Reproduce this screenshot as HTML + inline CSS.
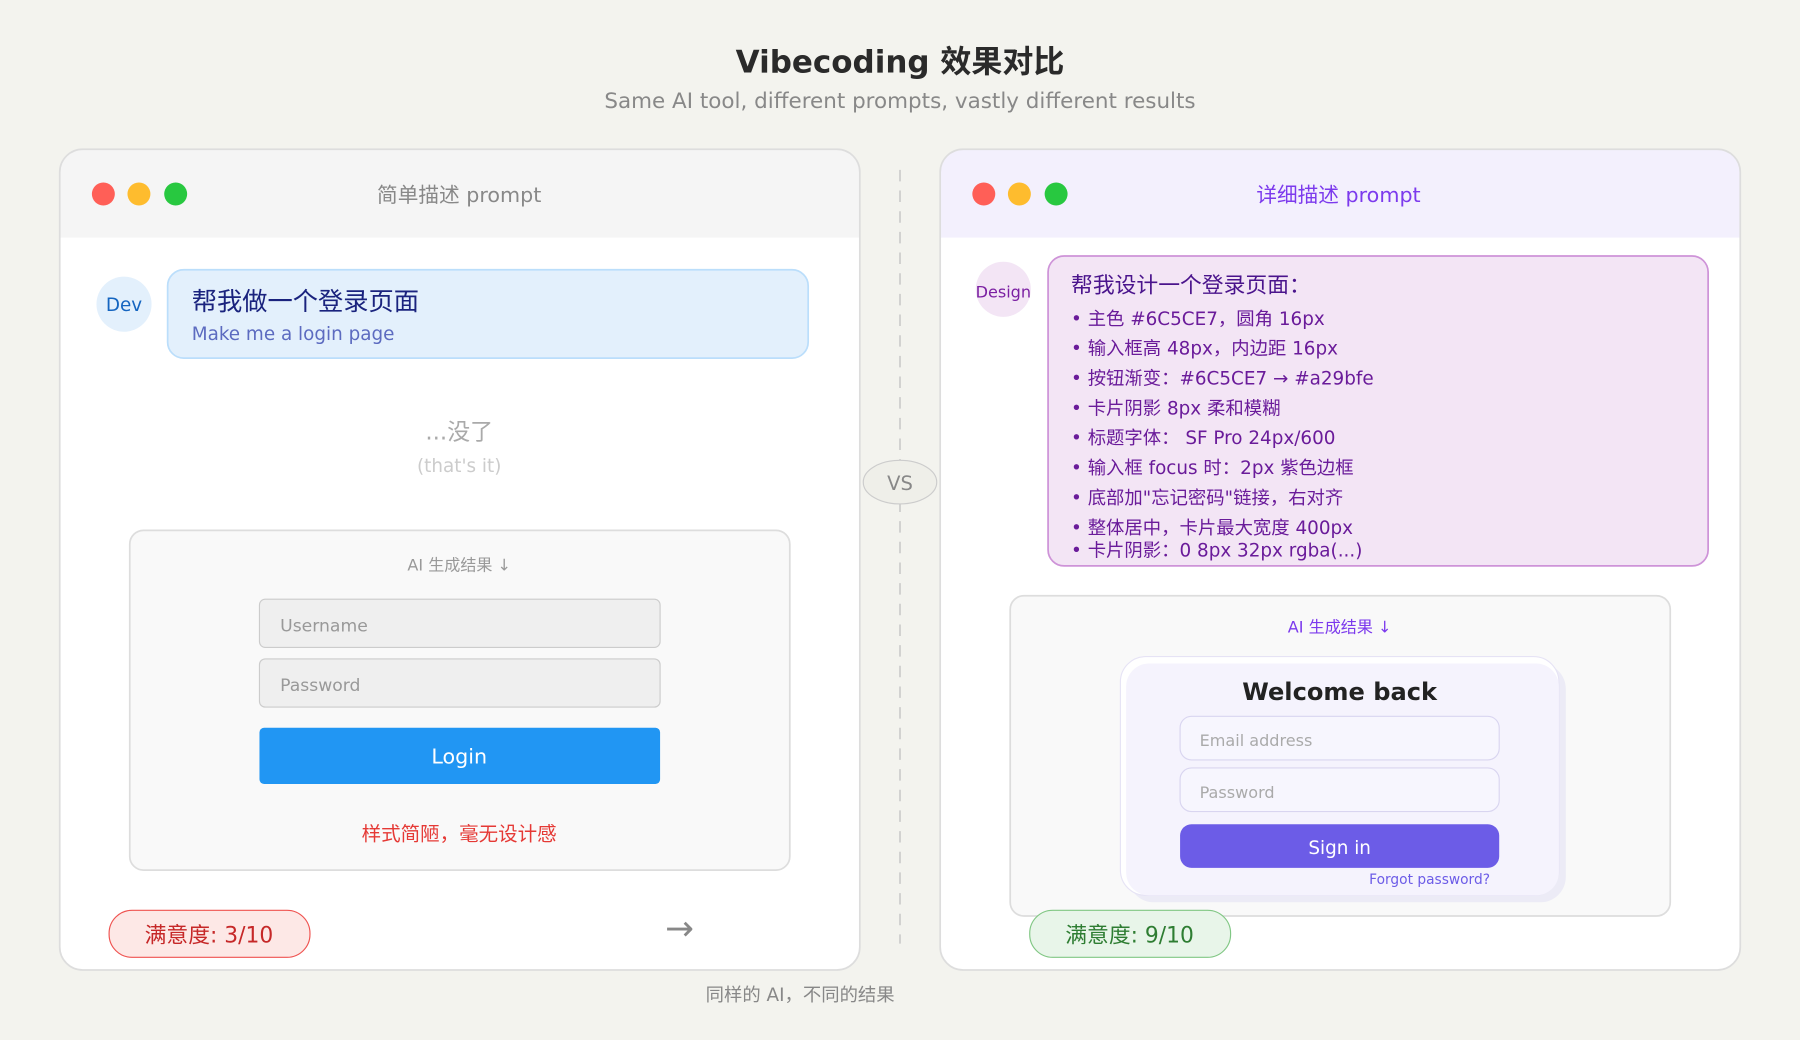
<!DOCTYPE html>
<html><head><meta charset="utf-8"><style>
html,body{margin:0;padding:0;background:#f3f3ee;}
svg{display:block;}
text{font-family:"DejaVu Sans","Liberation Sans","Noto Sans CJK SC",sans-serif;}
</style></head><body>
<svg width="1800" height="1040" viewBox="0 0 1568 906" xmlns="http://www.w3.org/2000/svg">
<rect width="1568" height="906" fill="#f3f3ee"/>
<text x="784" y="63" text-anchor="middle" font-size="27" font-weight="bold" fill="#2a2a2a">Vibecoding 效果对比</text>
<text x="784" y="94" text-anchor="middle" font-size="18.7" fill="#888">Same AI tool, different prompts, vastly different results</text>

<!-- left panel -->
<rect x="52" y="130" width="697" height="715" rx="20" fill="#fff"/>
<path d="M52 207 V150 a20 20 0 0 1 20 -20 H729 a20 20 0 0 1 20 20 V207 Z" fill="#f5f5f5"/>
<rect x="52" y="130" width="697" height="715" rx="20" fill="none" stroke="#ddd" stroke-width="1.5"/>
<circle cx="90" cy="169" r="10" fill="#ff5f57"/><circle cx="121" cy="169" r="10" fill="#febc2e"/><circle cx="153" cy="169" r="10" fill="#28c840"/>
<text x="400" y="176" text-anchor="middle" font-size="18" fill="#888">简单描述 prompt</text>
<circle cx="108" cy="265" r="24" fill="#e3f0fc"/>
<text x="108" y="271" text-anchor="middle" font-size="16" fill="#1565c0">Dev</text>
<rect x="146" y="235" width="558" height="77" rx="14" fill="#e3f0fc" stroke="#bbdefb" stroke-width="1.5"/>
<text x="167" y="270" font-size="22" fill="#1a237e">帮我做一个登录页面</text>
<text x="167" y="296" font-size="16" fill="#5c6bc0">Make me a login page</text>
<text x="400" y="383" text-anchor="middle" font-size="20" fill="#aaa">...没了</text>
<text x="400" y="411" text-anchor="middle" font-size="16" fill="#ccc">(that's it)</text>
<rect x="113" y="462" width="575" height="296" rx="12" fill="#f9f9f9" stroke="#ddd" stroke-width="1.5"/>
<text x="400" y="497" text-anchor="middle" font-size="14" fill="#999">AI 生成结果 ↓</text>
<rect x="226" y="522" width="349" height="42" rx="5" fill="#efefef" stroke="#ccc"/>
<text x="244" y="550" font-size="15" fill="#999">Username</text>
<rect x="226" y="574" width="349" height="42" rx="5" fill="#efefef" stroke="#ccc"/>
<text x="244" y="602" font-size="15" fill="#999">Password</text>
<rect x="226" y="634" width="349" height="49" rx="4" fill="#2196f3"/>
<text x="400" y="665" text-anchor="middle" font-size="18" fill="#fff">Login</text>
<text x="400" y="732" text-anchor="middle" font-size="17" fill="#e53935">样式简陋，毫无设计感</text>
<rect x="95" y="793" width="175" height="41" rx="20" fill="#fde8e6" stroke="#ef5350"/>
<text x="182" y="821" text-anchor="middle" font-size="19" fill="#c62828">满意度: 3/10</text>
<text x="592" y="819" text-anchor="middle" font-size="30" fill="#888">→</text>

<!-- divider -->
<line x1="784" y1="148" x2="784" y2="822" stroke="#ccc" stroke-width="1.5" stroke-dasharray="10,8"/>
<ellipse cx="784" cy="420" rx="32" ry="19" fill="#efefe9" stroke="#ccc"/>
<text x="784" y="427" text-anchor="middle" font-size="17" fill="#888">VS</text>

<!-- right panel -->
<rect x="819" y="130" width="697" height="715" rx="20" fill="#fff"/>
<path d="M819 207 V150 a20 20 0 0 1 20 -20 H1496 a20 20 0 0 1 20 20 V207 Z" fill="#f3f0fd"/>
<rect x="819" y="130" width="697" height="715" rx="20" fill="none" stroke="#ddd" stroke-width="1.5"/>
<circle cx="857" cy="169" r="10" fill="#ff5f57"/><circle cx="888" cy="169" r="10" fill="#febc2e"/><circle cx="920" cy="169" r="10" fill="#28c840"/>
<text x="1166" y="176" text-anchor="middle" font-size="18" fill="#7c3aed">详细描述 prompt</text>
<circle cx="874" cy="252" r="24" fill="#f3e5f5"/>
<text x="874" y="259" text-anchor="middle" font-size="14" fill="#7b1fa2">Design</text>
<rect x="913" y="223" width="575" height="270" rx="14" fill="#f3e5f5" stroke="#ce93d8" stroke-width="1.5"/>
<text x="933" y="255" font-size="19" fill="#4a148c">帮我设计一个登录页面：</text>
<g font-size="16" fill="#6a1b9a">
<text x="933" y="283">• 主色 #6C5CE7，圆角 16px</text>
<text x="933" y="309">• 输入框高 48px，内边距 16px</text>
<text x="933" y="335">• 按钮渐变：#6C5CE7 → #a29bfe</text>
<text x="933" y="361">• 卡片阴影 8px 柔和模糊</text>
<text x="933" y="387">• 标题字体： SF Pro 24px/600</text>
<text x="933" y="413">• 输入框 focus 时：2px 紫色边框</text>
<text x="933" y="439">• 底部加"忘记密码"链接，右对齐</text>
<text x="933" y="465">• 整体居中，卡片最大宽度 400px</text>
<text x="933" y="485">• 卡片阴影：0 8px 32px rgba(...)</text>
</g>
<rect x="880" y="519" width="575" height="279" rx="12" fill="#f9f9f9" stroke="#ddd" stroke-width="1.5"/>
<text x="1167" y="551" text-anchor="middle" font-size="14" fill="#7c3aed">AI 生成结果 ↓</text>
<rect x="983" y="578" width="381" height="208" rx="22" fill="#ecebf6"/>
<rect x="976" y="572" width="382" height="208" rx="22" fill="#fff" stroke="#e6e3f5"/>
<rect x="981" y="578" width="377" height="202" rx="20" fill="#f5f3fd"/>
<text x="1167" y="610" text-anchor="middle" font-size="21" font-weight="bold" fill="#222">Welcome back</text>
<rect x="1028" y="624" width="278" height="38" rx="10" fill="#f7f6fe" stroke="#d9d5f0"/>
<text x="1045" y="650" font-size="14" fill="#aaa">Email address</text>
<rect x="1028" y="669" width="278" height="38" rx="10" fill="#f7f6fe" stroke="#d9d5f0"/>
<text x="1045" y="695" font-size="14" fill="#aaa">Password</text>
<rect x="1028" y="718" width="278" height="38" rx="10" fill="#6c5ce7"/>
<text x="1167" y="744" text-anchor="middle" font-size="16" fill="#fff">Sign in</text>
<text x="1298" y="770" text-anchor="end" font-size="12" fill="#6c5ce7">Forgot password?</text>
<rect x="897" y="793" width="175" height="41" rx="20" fill="#e8f5e9" stroke="#81c784"/>
<text x="984" y="821" text-anchor="middle" font-size="19" fill="#2e7d32">满意度: 9/10</text>

<text x="697" y="872" text-anchor="middle" font-size="16" fill="#888">同样的 AI，不同的结果</text>
</svg>
</body></html>
